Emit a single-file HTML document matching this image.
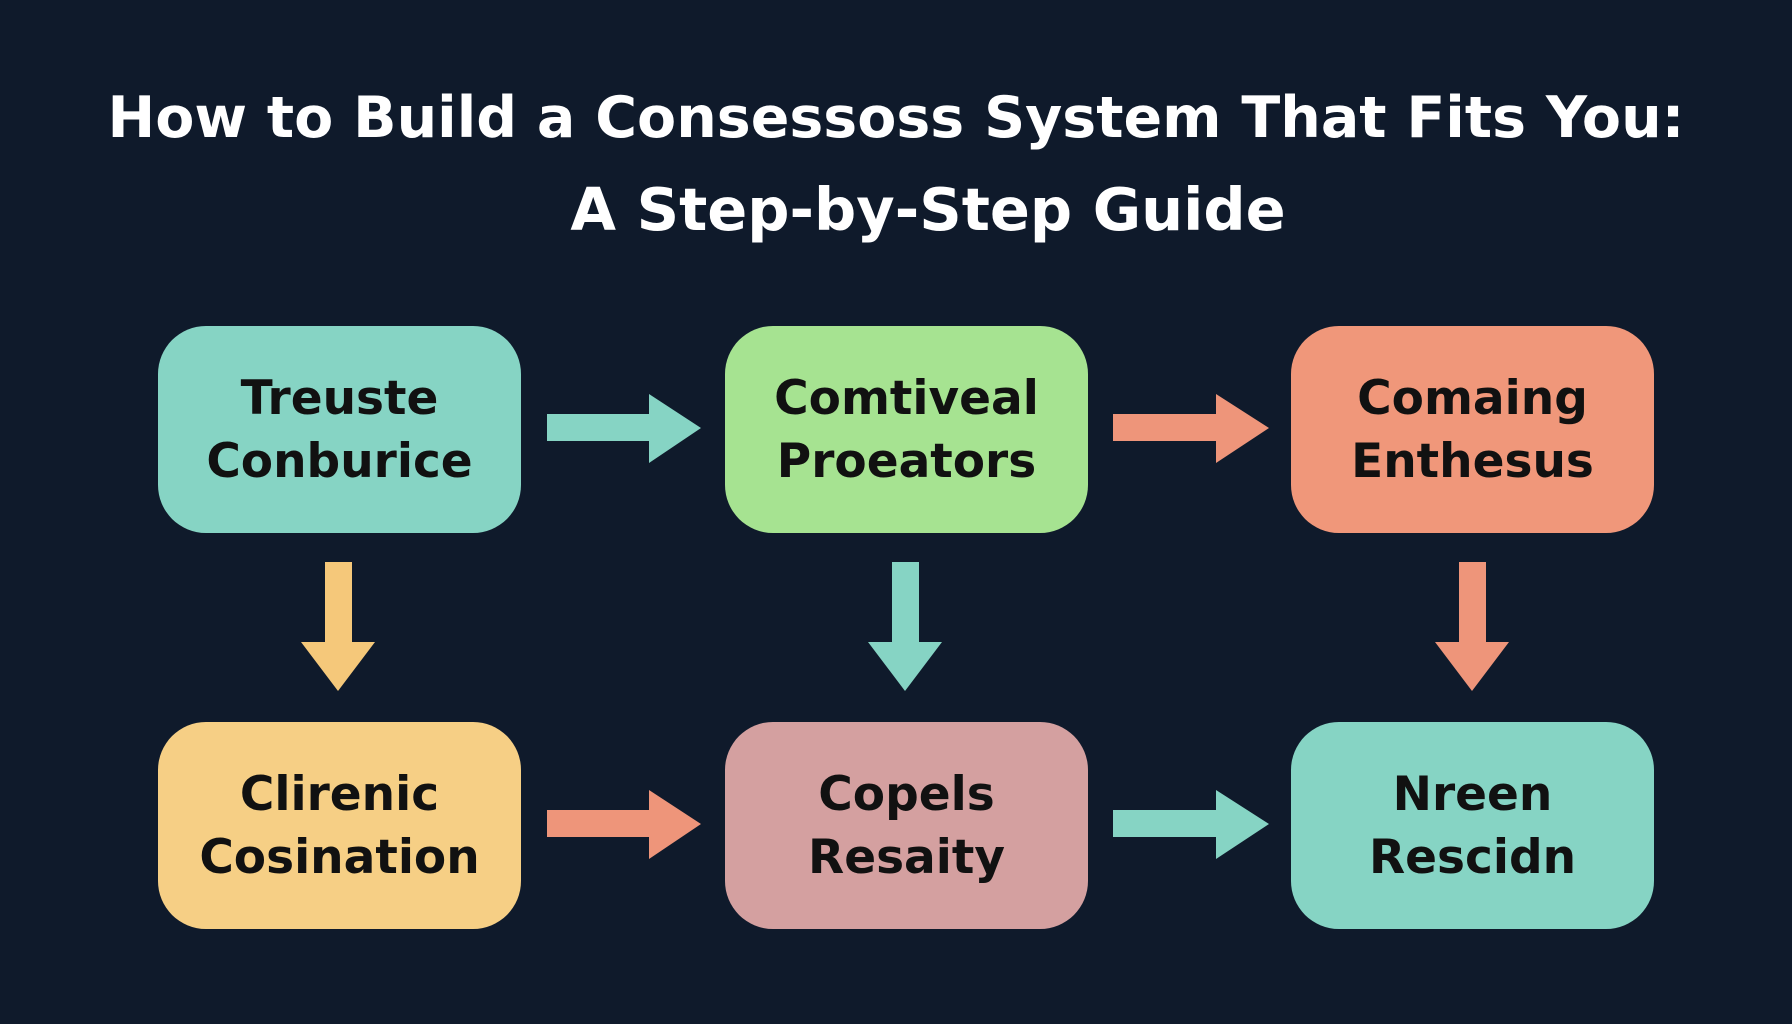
<!DOCTYPE html>
<html><head><meta charset="utf-8"><style>
body{margin:0;width:1792px;height:1024px;background:#0f1a2b;overflow:hidden;font-family:"DejaVu Sans","Liberation Sans",sans-serif;}
.t{position:absolute;left:0;width:1792px;text-align:center;color:#fff;font-weight:bold;font-size:57px;letter-spacing:0px}
.b{position:absolute;width:363px;height:207px;border-radius:48px;display:flex;align-items:center;justify-content:center;text-align:center;font-weight:bold;font-size:47px;line-height:63px;color:#111;letter-spacing:0px}
</style></head><body>
<div class="t" style="top:85px">How to Build a Consessoss System That Fits You:</div>
<div class="t" style="top:175px;left:32px;font-size:59px">A Step-by-Step Guide</div>
<div class="b" style="left:158px;top:326px;background:#86d4c4">Treuste<br>Conburice</div>
<div class="b" style="left:725px;top:326px;background:#a6e391">Comtiveal<br>Proeators</div>
<div class="b" style="left:1291px;top:326px;background:#f0977a">Comaing<br>Enthesus</div>
<div class="b" style="left:158px;top:722px;background:#f6cf85">Clirenic<br>Cosination</div>
<div class="b" style="left:725px;top:722px;background:#d4a0a0">Copels<br>Resaity</div>
<div class="b" style="left:1291px;top:722px;background:#86d4c4">Nreen<br>Rescidn</div>
<svg width="1792" height="1024" style="position:absolute;left:0;top:0">
<polygon points="547,414 649,414 649,394 701,428 649,463 649,441 547,441" fill="#86d4c4"/>
<polygon points="1113,414 1216,414 1216,394 1269,428 1216,463 1216,441 1113,441" fill="#ee957a"/>
<polygon points="547,810 649,810 649,790 701,824 649,859 649,837 547,837" fill="#ee957a"/>
<polygon points="1113,810 1216,810 1216,790 1269,824 1216,859 1216,837 1113,837" fill="#86d4c4"/>
<polygon points="325,562 352,562 352,642 375,642 338,691 301,642 325,642" fill="#f5c87a"/>
<polygon points="892,562 919,562 919,642 942,642 905,691 868,642 892,642" fill="#86d4c4"/>
<polygon points="1459,562 1486,562 1486,642 1509,642 1472,691 1435,642 1459,642" fill="#ee957a"/>
</svg>
</body></html>
